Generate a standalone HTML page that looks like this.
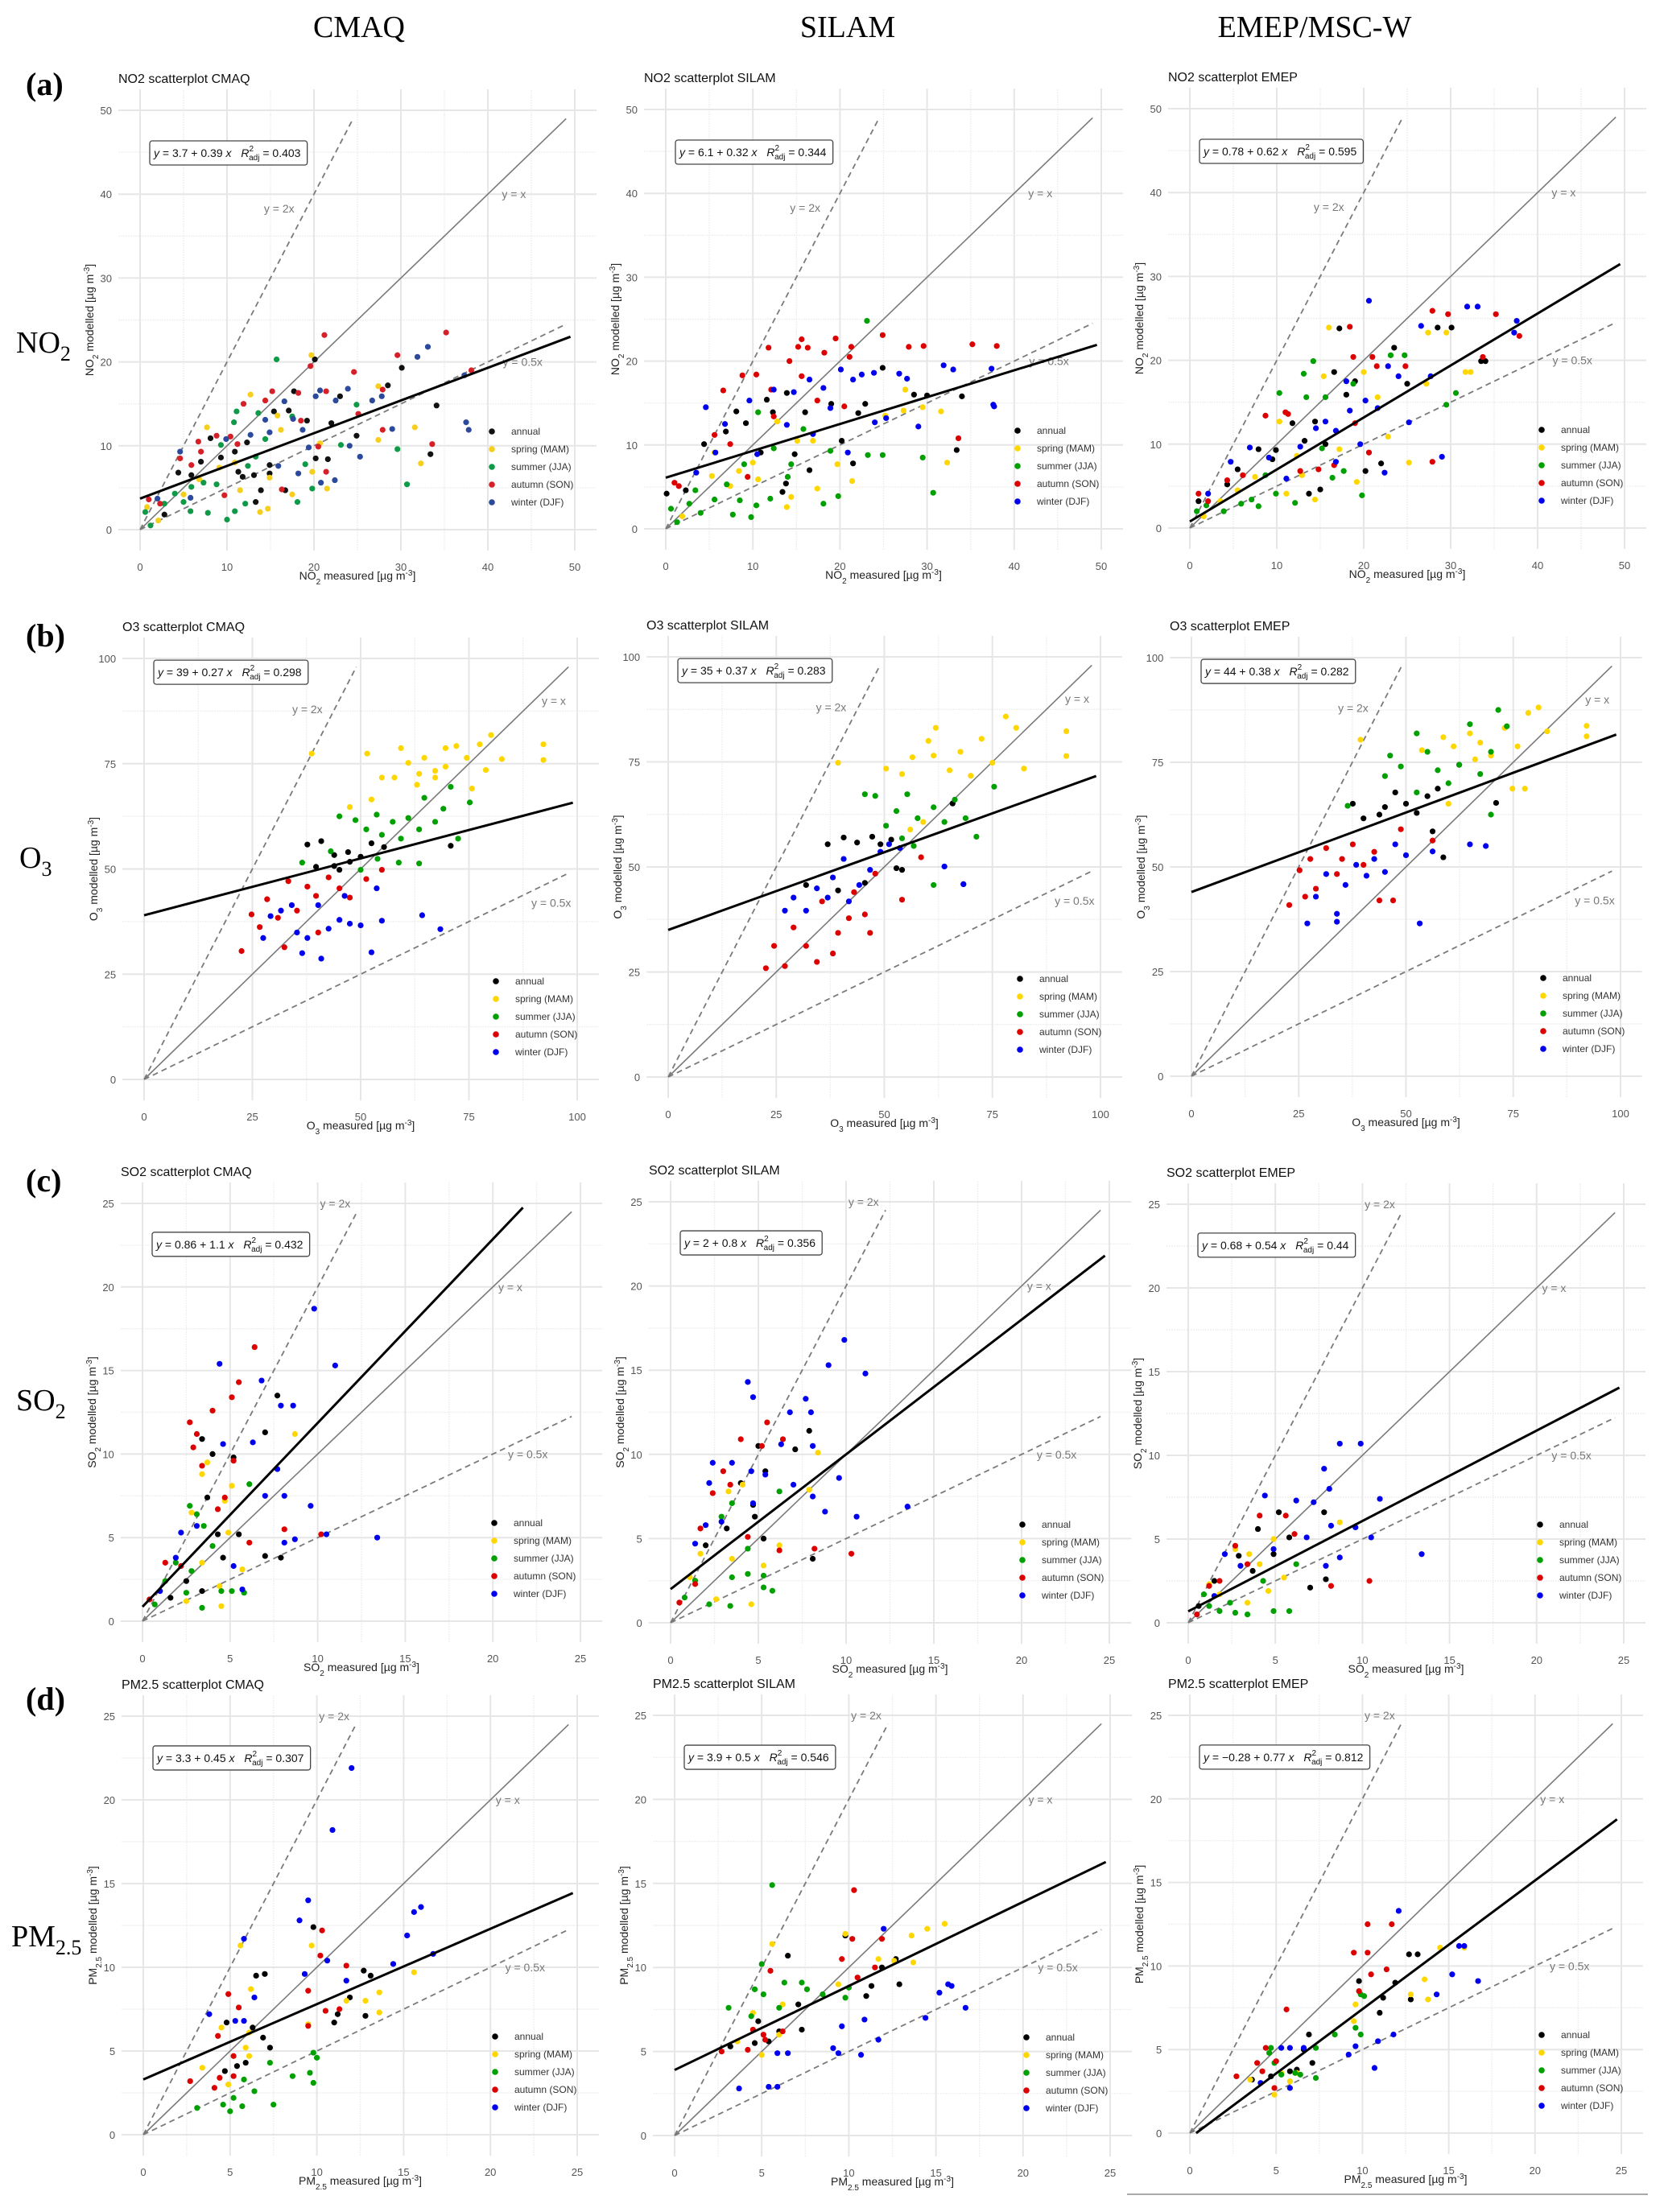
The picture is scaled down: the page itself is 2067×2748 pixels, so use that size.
<!DOCTYPE html>
<html>
<head>
<meta charset="utf-8">
<style>
  html,body{margin:0;padding:0;background:#fff;}
  svg{display:block;}
  .serif{font-family:"Liberation Serif",serif;}
  .sans{font-family:"Liberation Sans",sans-serif;}
</style>
</head>
<body>
<svg id="fig" xmlns="http://www.w3.org/2000/svg" width="2067" height="2748" viewBox="0 0 2067 2748">
  <rect x="0" y="0" width="2067" height="2748" fill="#fff"/>
  <text class="serif" x="446" y="46" font-size="38" text-anchor="middle" fill="#000">CMAQ</text>
  <text class="serif" x="1053" y="46" font-size="38" text-anchor="middle" fill="#000">SILAM</text>
  <text class="serif" x="1633" y="46" font-size="38" text-anchor="middle" fill="#000">EMEP/MSC-W</text>
  <text class="serif" x="32" y="118" font-size="40" font-weight="bold">(a)</text>
  <text class="serif" x="32" y="803" font-size="40" font-weight="bold">(b)</text>
  <text class="serif" x="32" y="1480" font-size="40" font-weight="bold">(c)</text>
  <text class="serif" x="32" y="2124" font-size="40" font-weight="bold">(d)</text>
  <text class="serif" x="20" y="438" font-size="38">NO<tspan font-size="26" dy="10">2</tspan></text>
  <text class="serif" x="24" y="1078" font-size="38">O<tspan font-size="26" dy="10">3</tspan></text>
  <text class="serif" x="20" y="1752" font-size="38">SO<tspan font-size="26" dy="10">2</tspan></text>
  <text class="serif" x="14" y="2418" font-size="38">PM<tspan font-size="26" dy="10">2.5</tspan></text>
  <line x1="1400" y1="2726" x2="2047" y2="2726" stroke="#aaa" stroke-width="2"/>
</svg>
<script>
// ---------- DATA ----------
const seriesNames = ["annual","spring (MAM)","summer (JJA)","autumn (SON)","winter (DJF)"];
// regression coefficients [intercept, slope, R2adj] per panel (row-major)
const regIntercepts = [3.7, 6.1, 0.78, 39, 35, 44, 0.86, 2, 0.68, 3.3, 3.9, -0.28];
const regSlopes     = [0.39, 0.32, 0.62, 0.27, 0.37, 0.38, 1.1, 0.8, 0.54, 0.45, 0.5, 0.77];
const regR2         = ["0.403","0.344","0.595","0.298","0.283","0.282","0.432","0.356","0.44","0.307","0.546","0.812"];
const ticksNO2 = [0,10,20,30,40,50];
const ticksO3  = [0,25,50,75,100];
const ticksSO2 = [0,5,10,15,20,25];
const ticksPM  = [0,5,10,15,20,25];

// NO2 CMAQ
const a1_annual=[[4.4,6.8],[5.9,6.5],[7.0,8.1],[8.1,10.9],[9.3,8.6],[10.9,9.3],[12.3,10.4],[11.8,6.3],[13.3,3.3],[13.9,4.7],[14.9,6.7],[15.4,14.1],[17.1,14.2],[17.7,16.5],[19.2,13.0],[20.2,8.5],[21.6,8.4],[22.0,12.7],[23.0,15.9],[24.9,11.2],[28.5,17.2],[30.1,19.3],[34.1,14.8],[33.4,9.0],[2.8,1.8],[11.3,6.9],[13.1,6.5],[14.9,7.7],[20.1,20.3],[16.7,4.7]];
const a1_spring=[[2.1,1.1],[7.7,12.2],[12.7,16.1],[10.9,8.0],[11.5,4.7],[13.8,2.1],[14.7,2.5],[15.8,13.6],[17.5,4.2],[19.7,20.8],[19.8,6.9],[21.5,4.9],[27.4,10.7],[27.4,17.1],[31.6,12.2],[32.3,7.9],[5.0,4.2],[6.8,6.0],[9.1,7.4],[14.9,6.2],[16.2,11.9],[20.7,10.3],[0.8,2.7]];
const a1_summer=[[1.2,0.5],[0.6,2.1],[2.8,3.1],[4.0,4.3],[5.8,2.2],[7.3,5.6],[7.8,2.0],[8.8,5.4],[10.0,1.2],[10.9,2.2],[10.8,12.8],[11.1,14.1],[12.1,3.1],[12.4,7.6],[13.6,13.9],[14.4,10.8],[15.7,20.3],[17.5,13.5],[18.1,3.3],[19.0,7.8],[19.8,4.9],[23.1,10.1],[24.9,14.9],[29.6,9.6],[30.7,5.4],[5.9,5.1],[9.3,10.1],[5.0,3.3],[13.3,8.7]];
const a1_autumn=[[1.0,3.6],[2.3,3.1],[4.6,8.5],[5.9,7.7],[6.7,10.5],[7.0,9.3],[8.8,11.2],[9.7,4.1],[10.4,11.1],[11.2,10.2],[11.9,15.0],[14.4,15.4],[15.2,16.5],[16.3,4.8],[18.2,16.3],[19.6,19.5],[20.5,9.9],[21.4,16.5],[21.2,23.2],[21.4,6.9],[24.6,18.8],[25.1,13.8],[27.9,11.9],[27.9,16.7],[29.6,20.8],[33.6,10.2],[35.2,23.5],[38.1,19.0],[18.5,13.0]];
const a1_winter=[[4.6,9.3],[2.0,3.7],[5.8,3.8],[9.9,10.8],[12.7,11.3],[14.9,11.6],[15.9,7.6],[16.6,15.3],[17.6,13.2],[18.7,11.9],[19.4,9.8],[20.2,15.9],[20.7,16.6],[20.8,5.6],[22.4,5.9],[22.5,15.4],[23.9,16.8],[24.1,10.0],[25.3,8.7],[26.7,15.4],[27.8,15.9],[29.0,12.0],[31.9,20.6],[33.1,21.8],[37.3,18.4],[37.5,12.8],[37.8,11.9],[14.4,13.1],[18.2,6.7]];
// NO2 SILAM
const a2_annual=[[0.1,4.2],[2.3,4.6],[4.4,10.1],[8.1,14.0],[6.9,11.6],[9.2,12.6],[11.6,15.4],[12.3,13.9],[13.4,4.4],[13.8,5.4],[13.9,16.2],[16.0,13.9],[16.5,7.0],[19.0,14.9],[20.2,10.5],[21.5,7.8],[22.1,13.8],[22.9,14.9],[24.9,19.2],[28.5,16.0],[30.0,15.9],[34.0,15.8],[33.4,9.4],[14.8,8.9],[10.9,9.1]];
const a2_spring=[[1.9,1.5],[5.3,6.3],[5.6,9.1],[7.4,5.1],[10.0,7.9],[10.6,5.9],[12.8,12.8],[13.9,2.6],[14.4,3.8],[15.1,10.5],[16.9,10.5],[17.4,4.8],[19.7,7.7],[21.4,5.7],[27.5,16.6],[27.3,14.1],[29.5,14.5],[31.6,14.0],[32.3,7.9],[25.2,13.5],[8.4,6.9]];
const a2_summer=[[0.6,2.4],[1.3,0.8],[2.7,3.0],[4.0,1.9],[5.6,3.5],[7.0,5.3],[7.7,1.7],[8.5,3.4],[9.8,1.4],[10.4,2.8],[10.6,13.9],[12.0,3.6],[12.4,9.6],[14.4,7.7],[15.8,11.9],[18.1,3.0],[19.8,3.9],[18.9,9.3],[23.1,24.8],[23.2,8.8],[24.9,8.8],[29.5,8.5],[30.7,4.3],[14.0,6.2],[9.0,7.7],[3.4,4.6]];
const a2_autumn=[[1.0,5.5],[1.5,5.1],[5.6,11.2],[6.6,16.5],[7.4,10.1],[8.8,18.3],[10.4,18.4],[11.8,21.6],[12.1,16.6],[14.2,20.0],[15.2,21.7],[15.6,22.6],[16.3,21.6],[15.6,18.2],[17.4,15.3],[18.2,21.0],[19.5,22.7],[20.5,14.6],[21.1,20.5],[21.3,21.7],[24.9,23.1],[27.9,21.7],[29.6,21.8],[35.2,22.0],[38.0,21.8],[33.6,10.8],[12.4,13.4],[9.4,6.2]];
const a2_winter=[[3.5,6.7],[4.6,14.5],[5.7,9.1],[6.8,12.5],[9.6,15.3],[10.5,8.9],[12.4,16.6],[14.7,16.3],[16.5,17.8],[16.9,11.3],[18.1,16.8],[18.9,14.4],[20.1,19.0],[20.9,9.1],[21.5,17.8],[22.5,18.4],[23.9,18.6],[24.0,12.7],[25.3,13.2],[26.8,18.5],[27.7,17.9],[29.0,12.2],[31.9,19.5],[33.0,19.0],[37.4,19.1],[37.6,14.8],[37.7,14.6],[13.9,12.4]];
// NO2 EMEP
const a3_annual=[[1.0,3.2],[4.3,5.2],[7.9,9.4],[9.9,9.3],[11.8,12.5],[13.2,10.4],[13.7,4.1],[15.0,4.6],[15.6,10.0],[16.6,18.6],[17.2,23.8],[18.0,15.9],[19.0,17.5],[20.2,6.8],[22.0,7.7],[23.5,21.5],[25.0,17.2],[28.5,23.9],[30.1,23.9],[33.5,19.9],[34.0,19.9],[14.4,12.7],[9.5,8.2],[5.5,7.0]];
const a3_spring=[[1.6,1.4],[3.5,3.2],[5.5,4.5],[7.5,6.1],[10.3,12.7],[11.1,4.1],[12.9,6.3],[14.4,3.4],[16.0,23.9],[15.4,18.1],[17.2,9.4],[19.2,5.5],[20.0,18.6],[21.6,15.6],[25.2,7.8],[27.2,17.2],[27.4,23.3],[29.5,23.3],[31.7,18.6],[32.3,18.6],[22.8,10.9],[12.3,8.6]];
const a3_summer=[[0.8,2.0],[1.9,2.7],[3.9,2.0],[5.9,2.9],[7.1,3.4],[7.9,2.6],[9.9,4.1],[10.3,16.1],[12.1,3.0],[13.1,18.4],[13.4,15.6],[14.2,19.9],[15.2,9.5],[15.6,15.6],[16.4,6.0],[18.8,17.2],[19.8,3.9],[23.1,20.6],[24.7,20.6],[29.5,14.7],[30.6,16.1],[8.7,6.3],[17.7,6.8]];
const a3_autumn=[[1.0,4.1],[2.1,3.2],[4.3,5.7],[6.1,6.3],[8.7,13.4],[11.0,13.8],[11.3,13.6],[12.7,6.8],[14.8,7.0],[16.6,7.5],[18.4,24.0],[18.8,20.4],[19.0,12.5],[21.0,20.4],[21.5,19.3],[24.8,19.3],[27.9,25.9],[27.9,7.9],[29.7,25.5],[33.7,20.4],[35.2,25.5],[37.9,22.9],[20.6,9.0]];
const a3_winter=[[2.1,4.1],[4.7,7.9],[6.9,9.6],[9.1,8.4],[11.1,5.9],[12.7,9.7],[14.5,11.9],[15.6,12.7],[16.8,11.6],[18.0,17.5],[18.4,14.0],[19.6,10.0],[20.2,15.2],[20.6,27.1],[21.6,14.3],[22.4,6.6],[22.8,19.3],[24.0,18.1],[25.2,12.6],[26.6,24.1],[27.7,18.1],[29.0,8.5],[31.9,26.4],[33.1,26.4],[37.3,23.3],[37.6,24.7],[16.8,7.9]];
// O3 CMAQ
const b1_annual=[[37.7,55.8],[40.9,56.6],[43.9,53.3],[47.1,54.0],[43.9,50.7],[45.1,49.8],[50.0,52.9],[52.5,56.1],[55.4,55.2],[70.8,55.5],[39.7,50.5],[47.5,51.7]];
const b1_spring=[[38.7,77.4],[51.5,77.4],[54.9,71.7],[57.8,71.7],[59.3,78.7],[61.0,75.2],[63.0,70.0],[64.7,76.4],[67.2,73.3],[69.6,78.7],[72.1,79.2],[74.5,76.4],[77.5,79.6],[80.1,81.8],[67.2,71.7],[75.7,69.1],[78.9,73.5],[82.6,76.1],[92.2,79.6],[92.2,75.9],[52.5,66.5],[47.5,64.7],[69.6,74.3],[63.5,72.6]];
const b1_summer=[[36.5,51.5],[43.1,54.2],[45.1,62.5],[48.8,61.6],[51.3,59.4],[53.7,62.9],[54.9,58.1],[57.4,61.2],[59.3,57.2],[61.0,62.1],[63.5,59.4],[64.7,66.9],[67.2,61.2],[69.1,64.3],[70.8,69.5],[72.5,57.2],[75.2,65.8],[63.5,51.3],[58.8,51.5],[53.9,52.4],[50.0,49.8]];
const b1_autumn=[[22.5,30.5],[24.8,39.2],[26.7,36.2],[28.4,42.8],[30.9,38.4],[33.3,47.1],[35.3,40.1],[37.7,45.8],[39.7,43.6],[42.6,48.0],[45.1,45.4],[32.4,31.4],[40.2,34.9],[47.5,43.2],[51.3,47.6],[54.9,49.8]];
const b1_winter=[[27.5,33.6],[29.2,38.8],[31.6,40.1],[34.1,41.4],[36.5,30.0],[37.7,33.6],[40.9,28.7],[42.6,35.8],[45.1,37.9],[47.5,37.0],[50.0,36.6],[52.5,30.2],[54.9,37.7],[64.2,39.0],[68.4,35.7],[40.2,41.4],[46.3,43.6],[53.7,45.4],[35.3,34.9]];
// O3 SILAM
const b2_annual=[[36.9,55.4],[40.6,57.0],[43.7,55.8],[47.2,57.2],[49.1,55.4],[51.6,56.5],[54.1,49.3],[52.8,49.7],[39.3,44.4],[31.9,45.7],[65.8,65.1],[45.5,46.2]];
const b2_spring=[[39.3,74.8],[50.4,73.4],[54.1,72.1],[56.5,76.1],[60.2,80.0],[61.9,83.1],[61.4,76.5],[65.1,73.0],[67.6,77.4],[70.0,71.7],[72.5,80.5],[75.0,74.8],[78.1,85.8],[80.5,83.1],[82.3,73.4],[92.1,82.3],[92.1,76.4],[59.0,60.7],[56.0,58.9]];
const b2_summer=[[45.5,67.3],[47.9,66.9],[52.8,63.3],[55.3,67.3],[57.7,61.6],[61.4,64.2],[63.9,60.7],[66.3,66.0],[68.8,61.6],[71.3,57.2],[75.4,69.1],[61.4,45.7],[68.3,45.9],[54.1,56.8],[50.4,59.8],[56.8,55.0]];
const b2_autumn=[[22.6,25.9],[27.0,26.4],[29.0,35.6],[31.9,31.2],[34.4,27.4],[35.6,41.8],[38.1,29.4],[39.3,34.3],[41.8,37.8],[43.0,44.0],[45.5,38.7],[46.7,34.3],[47.9,48.4],[54.1,42.2],[58.5,52.3],[24.5,31.2]];
const b2_winter=[[27.0,39.6],[29.0,42.7],[31.9,39.6],[34.4,44.9],[36.9,42.7],[38.1,47.5],[40.6,51.9],[41.8,41.8],[44.2,45.7],[46.7,49.3],[49.1,53.6],[51.1,55.4],[53.6,54.5],[63.9,50.1],[68.3,45.9]];
// O3 EMEP
const b3_annual=[[37.6,65.1],[40.1,61.6],[43.8,62.5],[47.5,67.8],[50.0,65.1],[52.5,62.9],[55.0,66.9],[57.4,68.7],[62.4,74.4],[58.7,52.3],[71.0,65.3],[56.2,58.5],[45.1,64.3]];
const b3_spring=[[39.4,80.4],[53.7,77.9],[58.7,81.0],[61.1,78.8],[64.9,81.9],[67.3,79.7],[69.8,76.6],[73.0,83.2],[76.0,78.8],[78.5,86.8],[80.9,88.1],[82.9,82.4],[92.1,83.7],[92.1,81.2],[59.9,65.1],[74.8,68.7],[77.7,68.7],[66.1,75.7]];
const b3_summer=[[46.3,76.6],[48.8,74.0],[52.5,81.9],[55.0,77.5],[57.4,73.1],[59.9,70.0],[62.4,74.4],[64.9,84.1],[67.3,72.2],[69.8,77.5],[71.5,87.5],[73.5,83.6],[45.1,71.7],[36.4,64.6],[69.8,62.5],[52.5,67.8]];
const b3_autumn=[[22.8,40.9],[25.2,49.2],[27.7,51.9],[29.0,44.8],[31.4,54.5],[33.9,48.3],[35.1,51.9],[37.6,55.4],[40.1,50.5],[42.6,53.6],[43.8,42.0],[47.0,42.0],[48.8,59.0],[26.5,42.9],[56.2,56.3]];
const b3_winter=[[27.0,36.5],[29.0,42.9],[31.4,48.3],[33.9,38.8],[35.9,45.7],[38.4,50.5],[40.8,47.9],[42.6,51.9],[45.1,48.8],[47.5,55.4],[50.0,52.8],[53.2,36.5],[56.2,53.7],[64.9,55.4],[68.6,55.0],[33.9,36.9]];
// SO2 CMAQ
const c1_annual=[[3.4,10.9],[4.0,10.0],[5.2,9.8],[7.7,13.5],[7.0,11.3],[3.7,7.4],[4.3,5.2],[5.5,5.2],[7.0,3.9],[7.9,3.8],[3.4,1.8],[4.6,3.8],[1.6,1.4],[2.5,2.4]];
const c1_spring=[[3.7,9.5],[3.4,8.8],[5.1,8.1],[4.7,7.2],[2.8,6.5],[4.9,5.3],[8.7,11.2],[4.4,2.1],[4.5,0.9],[2.5,1.2],[3.4,3.5],[5.7,3.1]];
const c1_summer=[[2.7,6.9],[3.1,6.4],[3.5,5.7],[4.0,4.5],[6.1,8.2],[2.5,1.7],[3.4,0.8],[5.1,1.8],[5.8,1.7],[4.5,1.8],[1.3,2.4],[1.9,3.5],[2.8,3.0],[0.7,1.0]];
const c1_autumn=[[6.4,16.4],[5.5,14.3],[5.1,13.4],[4.0,12.6],[2.7,11.9],[3.1,11.2],[2.9,10.4],[3.4,9.3],[5.2,9.6],[4.7,7.4],[4.3,6.7],[6.1,4.7],[8.1,5.5],[10.2,5.2],[1.3,3.5],[0.4,1.3],[2.2,3.3]];
const c1_winter=[[4.4,15.4],[6.8,14.4],[9.8,18.7],[11.0,15.3],[7.9,12.9],[8.6,12.9],[4.6,10.6],[6.3,10.7],[7.7,9.1],[7.0,7.5],[8.1,7.5],[9.6,6.9],[10.5,5.2],[13.4,5.0],[8.1,4.7],[8.7,4.9],[2.2,5.3],[3.1,5.7],[1.9,3.8],[1.0,1.8],[5.7,1.9],[5.2,3.3]];
// SO2 SILAM
const c2_annual=[[7.9,11.4],[7.1,10.3],[5.4,9.0],[5.0,10.5],[4.0,8.3],[4.7,7.0],[3.2,5.6],[5.3,5.0],[8.1,3.8],[4.8,6.3],[2.0,4.6]];
const c2_spring=[[8.4,10.1],[7.9,7.9],[4.1,8.2],[3.3,7.8],[1.7,4.1],[5.3,3.4],[4.6,1.1],[2.6,1.4],[3.5,3.8],[6.2,4.6],[1.1,2.7]];
const c2_summer=[[6.2,7.8],[3.5,7.1],[2.9,6.3],[4.4,4.4],[3.5,2.7],[5.3,2.1],[5.8,1.9],[2.2,1.1],[3.4,1.0],[0.8,1.5],[1.4,2.5],[4.4,2.9],[5.3,2.8]];
const c2_autumn=[[5.5,11.9],[4.0,10.9],[6.4,10.9],[5.2,10.5],[3.0,9.0],[3.4,8.2],[2.4,7.7],[1.7,5.6],[6.2,4.3],[8.2,4.4],[10.3,4.1],[0.5,1.2],[1.4,2.3],[4.4,5.1]];
const c2_winter=[[4.4,14.3],[4.7,13.4],[6.8,12.5],[7.7,13.3],[8.0,12.5],[9.0,15.3],[9.9,16.8],[11.1,14.8],[6.3,10.6],[8.1,10.5],[2.4,9.5],[3.5,9.5],[2.2,8.3],[4.6,9.0],[5.4,8.8],[7.0,8.2],[8.1,7.5],[9.6,8.6],[8.8,6.6],[10.6,6.3],[13.5,6.9],[2.0,5.8],[2.9,6.0],[1.4,4.7],[4.7,7.1]];
// SO2 EMEP
const c3_annual=[[4.0,5.6],[5.2,6.6],[5.8,5.1],[7.0,2.1],[7.8,6.6],[7.9,2.6],[2.9,4.0],[3.7,3.1],[1.5,2.5],[4.9,4.1],[0.6,1.0]];
const c3_spring=[[2.7,4.4],[3.5,4.1],[4.6,1.9],[4.9,5.0],[5.5,2.7],[8.7,6.0],[1.2,2.3],[1.8,1.7],[3.4,1.2],[4.1,3.5]];
const c3_summer=[[1.8,0.7],[2.7,0.6],[3.4,0.5],[4.9,0.7],[5.8,0.7],[6.2,3.5],[2.4,1.2],[1.2,1.0],[0.9,1.7],[4.3,2.5]];
const c3_autumn=[[4.1,6.4],[2.7,4.6],[5.6,6.4],[6.1,5.3],[8.2,2.2],[10.4,2.5],[0.5,0.5],[1.2,2.2],[1.8,2.5],[3.4,3.5]];
const c3_winter=[[4.4,7.6],[6.2,7.3],[7.2,7.2],[7.8,9.2],[8.1,8.0],[8.7,10.7],[9.9,10.7],[11.0,7.4],[8.2,5.8],[9.6,5.7],[10.5,5.1],[13.4,4.1],[6.8,5.1],[7.9,3.4],[8.7,3.9],[2.1,4.1],[3.0,3.4],[1.5,1.6],[4.9,4.4]];
// PM2.5 CMAQ
const d1_annual=[[4.8,6.7],[6.5,9.5],[7.0,9.6],[6.3,6.4],[6.9,5.8],[7.3,5.2],[5.9,4.3],[5.4,4.1],[4.7,3.8],[9.8,12.4],[12.7,9.8],[13.1,9.5],[11.9,8.2],[11.2,7.2],[11.0,6.7],[12.8,7.1]];
const d1_spring=[[5.6,11.3],[6.2,8.7],[4.5,6.4],[6.1,6.1],[6.1,4.7],[5.9,5.2],[3.4,4.0],[9.7,11.3],[9.5,6.6],[11.7,8.0],[12.8,8.0],[13.6,8.5],[13.6,7.3],[15.6,9.7],[4.9,3.0]];
const d1_summer=[[3.1,1.6],[4.6,1.8],[5.0,1.4],[5.2,2.2],[5.7,1.7],[6.4,2.6],[5.8,3.3],[7.3,4.3],[7.5,1.8],[8.6,3.5],[9.6,3.7],[9.8,3.1],[9.8,4.9],[10.0,4.6]];
const d1_autumn=[[2.7,3.2],[4.1,2.8],[4.4,3.4],[4.9,8.4],[4.3,5.9],[5.5,7.6],[5.2,4.7],[5.2,3.5],[9.5,8.6],[9.5,6.5],[10.2,10.7],[10.3,12.2],[10.5,7.4],[11.3,7.5],[11.7,10.1]];
const d1_winter=[[3.8,7.2],[5.3,6.8],[5.8,6.8],[6.4,8.2],[5.8,11.7],[9.0,12.8],[9.5,14.0],[12.0,21.9],[10.9,18.2],[9.3,9.6],[10.6,10.4],[11.7,9.2],[14.4,10.2],[15.2,11.9],[15.6,13.3],[16.0,13.6],[16.7,10.8]];
// PM2.5 SILAM
const d2_annual=[[3.2,5.3],[4.6,5.5],[4.8,6.8],[5.4,5.6],[6.5,10.7],[6.0,6.2],[7.1,7.8],[7.3,6.3],[9.8,11.9],[11.0,8.3],[11.3,8.9],[11.9,10.0],[12.7,10.5],[12.9,9.0]];
const d2_spring=[[3.6,5.6],[4.5,7.3],[5.0,4.8],[5.6,11.4],[6.0,6.0],[6.2,7.8],[9.4,9.0],[9.8,12.0],[11.7,10.5],[12.6,10.4],[13.6,11.9],[13.7,10.3],[14.5,12.3],[15.5,12.6]];
const d2_summer=[[3.1,7.6],[4.6,8.7],[5.0,10.2],[5.1,8.4],[5.6,14.9],[6.0,7.6],[6.3,9.1],[7.3,9.1],[7.6,8.7],[8.5,8.4],[9.8,8.2],[10.0,8.8],[4.4,7.1]];
const d2_autumn=[[2.7,5.0],[4.2,5.1],[4.5,6.3],[5.1,6.0],[5.2,5.7],[5.5,9.8],[6.2,6.2],[9.6,10.5],[10.2,11.7],[10.3,14.6],[10.5,9.4],[11.5,10.0],[11.9,11.7]];
const d2_winter=[[3.7,2.8],[5.4,2.9],[5.9,2.9],[5.9,4.9],[6.5,4.9],[9.1,5.2],[9.4,4.9],[9.6,6.5],[10.7,4.8],[10.9,6.9],[11.7,5.7],[12.0,12.3],[14.4,7.0],[15.2,8.5],[15.7,9.0],[15.9,8.9],[16.7,7.6]];
// PM2.5 EMEP
const d3_annual=[[3.6,3.2],[4.7,3.4],[5.8,3.7],[6.2,3.8],[6.6,5.0],[7.1,4.2],[6.9,5.9],[9.8,9.1],[11.0,7.2],[11.2,8.1],[11.9,9.0],[12.7,10.7],[13.2,10.7],[12.8,8.0]];
const d3_spring=[[3.5,3.2],[4.9,2.3],[5.3,3.6],[5.8,3.1],[6.2,3.6],[9.5,6.7],[9.6,7.7],[12.8,8.3],[13.6,9.2],[13.8,8.0],[14.5,11.1],[15.9,11.1]];
const d3_summer=[[4.6,4.8],[4.7,5.1],[4.9,4.2],[5.3,3.5],[6.1,3.6],[6.4,3.5],[7.3,5.1],[7.3,3.3],[8.4,5.9],[9.6,6.3],[9.9,8.3],[9.9,5.9],[10.1,8.2]];
const d3_autumn=[[2.7,3.4],[3.9,4.2],[4.2,3.7],[4.4,5.1],[4.9,2.7],[5.0,4.3],[5.6,7.4],[9.5,10.8],[9.8,8.5],[10.3,10.8],[10.5,9.5],[11.4,9.8],[10.3,12.5],[11.7,12.5]];
const d3_winter=[[4.1,3.0],[5.3,5.1],[5.8,5.1],[5.8,2.7],[6.6,5.1],[9.2,4.7],[9.6,5.2],[10.7,3.9],[10.9,5.5],[11.8,5.9],[12.1,13.3],[14.3,8.3],[15.2,9.5],[15.6,11.2],[15.9,11.2],[16.7,9.1]];

// ---------- LAYOUT ----------
const layout = [
 {id:"no2-cmaq",pol:"NO2",title:"NO2 scatterplot CMAQ",x0:174,xR:714,y0:658,yR:137,max:50,ticks:ticksNO2,row:"a",series:[a1_annual,a1_spring,a1_summer,a1_autumn,a1_winter],muted:true},
 {id:"no2-silam",pol:"NO2",title:"NO2 scatterplot SILAM",x0:827,xR:1368,y0:657,yR:136,max:50,ticks:ticksNO2,row:"a",series:[a2_annual,a2_spring,a2_summer,a2_autumn,a2_winter]},
 {id:"no2-emep",pol:"NO2",title:"NO2 scatterplot EMEP",x0:1478,xR:2018,y0:656,yR:135,max:50,ticks:ticksNO2,row:"a",series:[a3_annual,a3_spring,a3_summer,a3_autumn,a3_winter]},
 {id:"o3-cmaq",pol:"O3",title:"O3 scatterplot CMAQ",x0:179,xR:717,y0:1341,yR:818,max:100,ticks:ticksO3,row:"b",series:[b1_annual,b1_spring,b1_summer,b1_autumn,b1_winter]},
 {id:"o3-silam",pol:"O3",title:"O3 scatterplot SILAM",x0:830,xR:1367,y0:1338,yR:816,max:100,ticks:ticksO3,row:"b",series:[b2_annual,b2_spring,b2_summer,b2_autumn,b2_winter]},
 {id:"o3-emep",pol:"O3",title:"O3 scatterplot EMEP",x0:1480,xR:2013,y0:1337,yR:817,max:100,ticks:ticksO3,row:"b",series:[b3_annual,b3_spring,b3_summer,b3_autumn,b3_winter]},
 {id:"so2-cmaq",pol:"SO2",title:"SO2 scatterplot CMAQ",x0:177,xR:721,y0:2014,yR:1495,max:25,ticks:ticksSO2,row:"c",series:[c1_annual,c1_spring,c1_summer,c1_autumn,c1_winter]},
 {id:"so2-silam",pol:"SO2",title:"SO2 scatterplot SILAM",x0:833,xR:1378,y0:2016,yR:1493,max:25,ticks:ticksSO2,row:"c",series:[c2_annual,c2_spring,c2_summer,c2_autumn,c2_winter]},
 {id:"so2-emep",pol:"SO2",title:"SO2 scatterplot EMEP",x0:1476,xR:2017,y0:2016,yR:1496,max:25,ticks:ticksSO2,row:"c",series:[c3_annual,c3_spring,c3_summer,c3_autumn,c3_winter]},
 {id:"pm25-cmaq",pol:"PM25",title:"PM2.5 scatterplot CMAQ",x0:178,xR:717,y0:2652,yR:2132,max:25,ticks:ticksPM,row:"d",series:[d1_annual,d1_spring,d1_summer,d1_autumn,d1_winter]},
 {id:"pm25-silam",pol:"PM25",title:"PM2.5 scatterplot SILAM",x0:838,xR:1379,y0:2653,yR:2131,max:25,ticks:ticksPM,row:"d",series:[d2_annual,d2_spring,d2_summer,d2_autumn,d2_winter]},
 {id:"pm25-emep",pol:"PM25",title:"PM2.5 scatterplot EMEP",x0:1478,xR:2014,y0:2650,yR:2131,max:25,ticks:ticksPM,row:"d",series:[d3_annual,d3_spring,d3_summer,d3_autumn,d3_winter]}
];
const refLabelPos = {
 a:[[0.32,0.766],[0.86,0.80],[0.88,0.40]],
 b:[[0.377,0.88],[0.946,0.90],[0.94,0.42]],
 c:[[0.44,1.0],[0.84,0.80],[0.88,0.40]],
 d:[[0.44,1.0],[0.84,0.80],[0.88,0.40]]
};
const boxTopFrac = {a:0.073,b:0.004,c:0.069,d:0.071};
const colorsMain  = ["#000000","#ffd700","#00a000","#dd0000","#0000ee"];
const colorsMuted = ["#111111","#f5cf1c","#109a48","#d62028","#2c4a9c"];

const NS="http://www.w3.org/2000/svg";
const svg=document.getElementById("fig");
function mk(tag,attrs,parent){const e=document.createElementNS(NS,tag);for(const k in attrs)e.setAttribute(k,attrs[k]);(parent||svg).appendChild(e);return e;}
function polHTML(pol){
  if(pol==="NO2")return 'NO<tspan baseline-shift="sub" font-size="10">2</tspan>';
  if(pol==="O3")return 'O<tspan baseline-shift="sub" font-size="10">3</tspan>';
  if(pol==="SO2")return 'SO<tspan baseline-shift="sub" font-size="10">2</tspan>';
  return 'PM<tspan baseline-shift="sub" font-size="10">2.5</tspan>';
}

layout.forEach((p,pi)=>{
  const g=mk("g",{});
  
  
  const sx=(p.xR-p.x0)/p.max, sy=(p.y0-p.yR)/p.max;
  const X=v=>p.x0+v*sx, Y=v=>p.y0-v*sy;
  const lo=-0.05*p.max, hi=1.05*p.max;
  const step=p.ticks[1]-p.ticks[0];
  // minor grid
  for(let v=step/2; v<p.max; v+=step){
    const l1=mk("line",{x1:X(v),x2:X(v),y1:Y(lo),y2:Y(hi),stroke:"#f0f0f0","stroke-width":1.4,"stroke-dasharray":"2,1"},g);
    
    
    const l2=mk("line",{x1:X(lo),x2:X(hi),y1:Y(v),y2:Y(v),stroke:"#f0f0f0","stroke-width":1.4,"stroke-dasharray":"2,1"},g);
    
    
  }
  p.ticks.forEach(t=>{
    const gx=mk("line",{x1:X(t),x2:X(t),y1:Y(lo),y2:Y(hi),stroke:"#e6e6e6","stroke-width":2},g);
    
    
    const gy=mk("line",{x1:X(lo),x2:X(hi),y1:Y(t),y2:Y(t),stroke:"#e6e6e6","stroke-width":2},g);
    
    
    const tx=mk("text",{x:X(t),y:Y(lo)+25,"font-size":13,fill:"#555","text-anchor":"middle",class:"sans"},g);
    tx.textContent=t;
    
    
    const ty=mk("text",{x:X(lo)-8,y:Y(t)+5,"font-size":13,fill:"#555","text-anchor":"end",class:"sans"},g);
    ty.textContent=t;
    
    
  });
  // title
  const ti=mk("text",{x:p.x0-27,y:p.yR-34,"font-size":16,fill:"#111",class:"sans"},g);
  ti.textContent=p.title;
  
  
  // axis titles
  const xt=mk("text",{x:(p.x0+p.xR)/2,y:p.y0+62,"font-size":14,fill:"#222","text-anchor":"middle",class:"sans"},g);
  xt.innerHTML=polHTML(p.pol)+' measured [µg m<tspan baseline-shift="super" font-size="10">-3</tspan>]';
  
  
  const cy=(p.y0+p.yR)/2, cx=p.x0-58;
  const yt=mk("text",{x:cx,y:cy,"font-size":14,fill:"#222","text-anchor":"middle",class:"sans",transform:`rotate(-90 ${cx} ${cy})`},g);
  yt.innerHTML=polHTML(p.pol)+' modelled [µg m<tspan baseline-shift="super" font-size="10">-3</tspan>]';
  
  
  // reference lines
  const m=p.max*0.98;
  const r1=mk("line",{x1:X(0),y1:Y(0),x2:X(m),y2:Y(m),stroke:"#7a7a7a","stroke-width":1.6},g);
  
  
  const r2=mk("line",{x1:X(0),y1:Y(0),x2:X(m/2),y2:Y(m),stroke:"#7a7a7a","stroke-width":1.8,"stroke-dasharray":"7,5"},g);
  
  
  const r3=mk("line",{x1:X(0),y1:Y(0),x2:X(m),y2:Y(m/2),stroke:"#7a7a7a","stroke-width":1.8,"stroke-dasharray":"7,5"},g);
  
  
  const lp=refLabelPos[p.row];
  ["y = 2x","y = x","y = 0.5x"].forEach((s,i)=>{
    const t=mk("text",{x:X(lp[i][0]*p.max),y:Y(lp[i][1]*p.max)+5,"font-size":14,fill:"#777","text-anchor":"middle",class:"sans"},g);
    t.textContent=s;
    
    
  });
  // points
  const cols=p.muted?colorsMuted:colorsMain;
  p.series.forEach((arr,si)=>{
    arr.forEach(pt=>{
      const c=mk("circle",{cx:X(pt[0]),cy:Y(pt[1]),r:3.6,fill:cols[si]},g);
      
      
    });
  });
  // regression
  const a=regIntercepts[pi], b=regSlopes[pi];
  let xs=a<0?-a/b:0, xe=p.max*0.99;
  if(a+b*xe>p.max*0.99) xe=(p.max*0.99-a)/b;
  const rg=mk("line",{x1:X(xs),y1:Y(a+b*xs),x2:X(xe),y2:Y(a+b*xe),stroke:"#000","stroke-width":3},g);
  
  
  // equation box
  const bt=p.yR+boxTopFrac[p.row]*(p.y0-p.yR);
  const rect=mk("rect",{x:p.x0+12,y:bt,width:190,height:30,rx:3,fill:"#fff",stroke:"#444","stroke-width":1.3},g);
  
  
  const sign=a<0?"\u2212":"";
  const eq=mk("text",{x:p.x0+17,y:bt+20,"font-size":14,fill:"#111",class:"sans"},g);
  eq.innerHTML='<tspan font-style="italic">y</tspan> = '+sign+Math.abs(a)+' + '+b+' <tspan font-style="italic">x</tspan>   <tspan font-style="italic" dx="8">R</tspan><tspan font-size="10" dy="-7">2</tspan><tspan font-size="10" dx="-6" dy="11">adj</tspan><tspan dy="-4"> = '+regR2[pi]+'</tspan>';
  
  
  const w=eq.getBBox().width;
  rect.setAttribute("width",w+12);
  // legend
  seriesNames.forEach((s,si)=>{
    const ly=p.y0-122+si*22;
    const d=mk("circle",{cx:p.x0+437,cy:ly,r:3.8,fill:cols[si]},g);
    
    
    const t=mk("text",{x:p.x0+461,y:ly+4,"font-size":12,fill:"#333",class:"sans"},g);
    t.textContent=s;
    
    
  });
});
</script>
</body>
</html>
